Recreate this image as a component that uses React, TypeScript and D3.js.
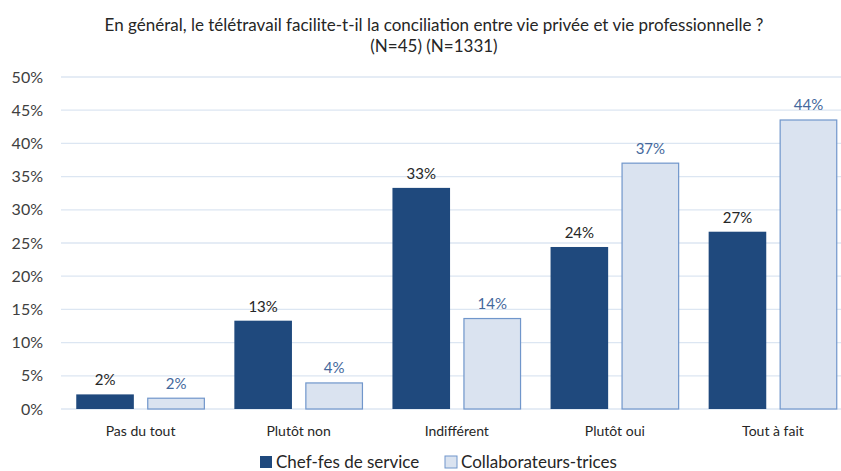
import React from "react";
import * as d3 from "d3";

const categories = ["Pas du tout", "Plutôt non", "Indifférent", "Plutôt oui", "Tout à fait"];
const chefValues = [2.2, 13.3, 33.3, 24.4, 26.7];
const collabValues = [1.7, 4.0, 13.7, 37.1, 43.6];
const seriesNames = ["Chef-fes de service", "Collaborateurs-trices"];
const yTicks = [0, 5, 10, 15, 20, 25, 30, 35, 40, 45, 50];
const titleLines = [
  "En général, le télétravail facilite-t-il la conciliation entre vie privée et vie professionnelle ?",
  "(N=45) (N=1331)",
];

const W = 841;
const H = 471;
const FONT = "Lato, 'Open Sans', sans-serif";

export default function App() {
  const x = d3.scaleBand<string>().domain(categories).range([61.5, 852]);
  const y = d3.scaleLinear().domain([0, 50]).range([409, 77]);
  const bw = 57.6;
  const gap = 13.4;
  const dark = "#1f497d";
  const lightFill = "#dae3f0";
  const lightStroke = "#7096cb";

  return (
    <svg width={W} height={H} style={{ position: "absolute", left: 0, top: 0 }} fontFamily={FONT}>
      <rect x={0} y={0} width={W} height={H} fill="#fff" />
      {titleLines.map((t, i) => (
        <text key={i} x={434} y={31 + i * 21} textAnchor="middle" fontSize={17} fill="#262626">
          {t}
        </text>
      ))}
      {yTicks.map((t) => (
        <g key={t}>
          <line x1={61} x2={W} y1={y(t)} y2={y(t)} stroke="#dce6f2" strokeWidth={1.3} />
          <text x={43} y={y(t) + 5.5} textAnchor="end" fontSize={16} fill="#404040">
            {t}%
          </text>
        </g>
      ))}
      {categories.map((c, i) => {
        const cx = (x(c) as number) + x.bandwidth() / 2;
        const x1 = cx - gap / 2 - bw;
        const x2 = cx + gap / 2;
        return (
          <g key={c}>
            <rect x={x1} y={y(chefValues[i])} width={bw} height={y(0) - y(chefValues[i])} fill={dark} />
            <rect
              x={x2 + 0.5}
              y={y(collabValues[i]) + 0.5}
              width={bw - 1}
              height={y(0) - y(collabValues[i]) - 0.5}
              fill={lightFill}
              stroke={lightStroke}
              strokeWidth={1.2}
            />
            <text x={x1 + bw / 2} y={y(chefValues[i]) - 9} textAnchor="middle" fontSize={15} fill="#262626">
              {Math.round(chefValues[i])}%
            </text>
            <text x={x2 + bw / 2} y={y(collabValues[i]) - 9} textAnchor="middle" fontSize={15} fill="#44689c">
              {Math.round(collabValues[i])}%
            </text>
            <text x={cx} y={436} textAnchor="middle" fontSize={14} fill="#262626">
              {c}
            </text>
          </g>
        );
      })}
      <rect x={260} y={456} width={12} height={12} fill={dark} />
      <text x={276} y={468} fontSize={17} fill="#262626">
        {seriesNames[0]}
      </text>
      <rect x={445} y={456} width={12} height={12} fill={lightFill} stroke={lightStroke} strokeWidth={1} />
      <text x={461} y={468} fontSize={17} fill="#262626">
        {seriesNames[1]}
      </text>
    </svg>
  );
}
